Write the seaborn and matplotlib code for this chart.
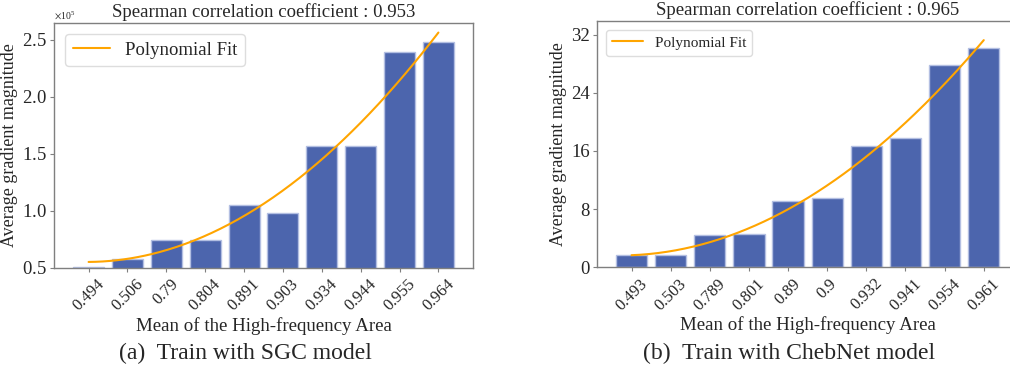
import numpy as np
import matplotlib
matplotlib.use("Agg")
import matplotlib.pyplot as plt
import seaborn as sns

# ---- data ----
sgc_labels = ["0.494", "0.506", "0.79", "0.804", "0.891", "0.903", "0.934", "0.944", "0.955", "0.964"]
sgc_values = [51000, 58000, 74700, 74500, 105300, 98200, 157000, 156700, 239000, 248000]
sgc_title = "Spearman correlation coefficient : 0.953"

cheb_labels = ["0.493", "0.503", "0.789", "0.801", "0.89", "0.9", "0.932", "0.941", "0.954", "0.961"]
cheb_values = [1.69, 1.73, 4.47, 4.61, 9.1, 9.47, 16.64, 17.74, 27.85, 30.18]
cheb_title = "Spearman correlation coefficient : 0.965"

xlabel = "Mean of the High-frequency Area"
ylabel = "Average gradient magnitude"
captions = ["(a)  Train with SGC model", "(b)  Train with ChebNet model"]

sns.set_style("ticks")
plt.rcParams["font.family"] = ["Liberation Serif", "DejaVu Serif"]
plt.rcParams["mathtext.fontset"] = "stix"

BAR = "#4c65ad"
EDGE = "#b3bfe2"
SPINE = "#7f7f7f"

fig = plt.figure(figsize=(10.10, 3.68), dpi=100)
W, H = 1010, 368


def ax_at(l, t, r, b):
    return fig.add_axes([l / W, 1 - b / H, (r - l) / W, (b - t) / H])


def panel(ax, labels, values, title, legend_size, ylim, yticks):
    sns.barplot(x=labels, y=values, color=BAR, saturation=1, edgecolor=EDGE,
                linewidth=1.0, width=0.8, ax=ax)
    idx = np.arange(len(values))
    coef = np.polyfit(idx, values, 2)
    xs = np.linspace(0, len(values) - 1, 200)
    ax.plot(xs, np.polyval(coef, xs), color="orange", lw=1.5, label="Polynomial Fit")
    ax.set_xlim(-0.89, 9.89)
    ax.set_ylim(*ylim)
    ax.set_yticks(yticks)
    ax.set_title(title, fontsize=13.5, pad=4)
    ax.set_xlabel(xlabel, fontsize=13.6, labelpad=2)
    ax.set_ylabel(ylabel, fontsize=13, labelpad=3)
    ax.tick_params(axis="x", labelrotation=45, labelsize=12, length=3, color=SPINE, pad=3)
    ax.tick_params(axis="y", labelsize=13.5, length=3, color=SPINE, pad=2)
    for lab in ax.get_xticklabels():
        lab.set_ha("center")
    for s in ax.spines.values():
        s.set_color(SPINE)
        s.set_linewidth(1.0)
    ax.legend(loc="upper left", fontsize=legend_size, handlelength=2.0,
              framealpha=1, edgecolor="#dddddd", borderaxespad=0.6)


ax1 = ax_at(54, 22.7, 473, 267.7)
panel(ax1, sgc_labels, sgc_values, sgc_title, 13.5, (50000, 265000),
      [50000, 100000, 150000, 200000, 250000])
ax1.ticklabel_format(axis="y", style="sci", scilimits=(0, 0), useMathText=True)
ax1.yaxis.get_offset_text().set_fontsize(7)

ax2 = ax_at(596.7, 20.7, 1018.6, 267.3)
panel(ax2, cheb_labels, cheb_values, cheb_title, 11, (0, 33.9), [0, 8, 16, 24, 32])

fig.text(245 / W, 1 - 353 / H, captions[0], ha="center", va="center", fontsize=17)
fig.text(789 / W, 1 - 353 / H, captions[1], ha="center", va="center", fontsize=17)

fig.savefig("out.png", dpi=100)
